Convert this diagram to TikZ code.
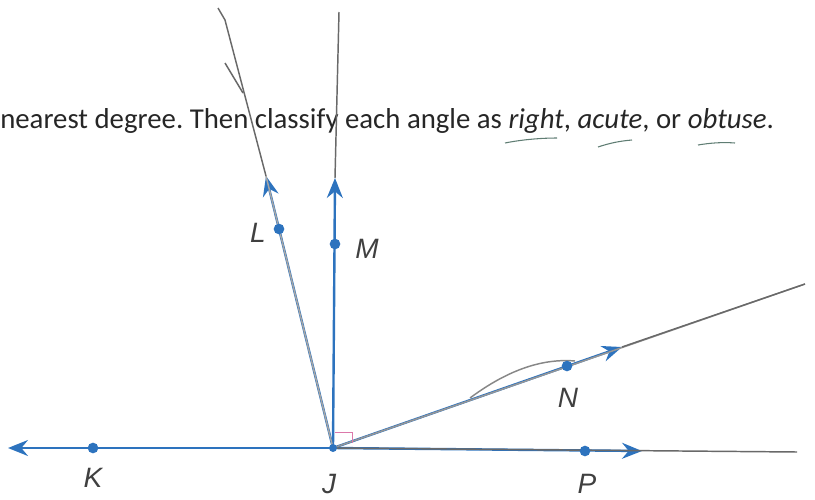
\documentclass[tikz,border=0pt]{standalone}
\usepackage{fontspec}
\setmainfont{Carlito}
\newfontfamily\lblfont{Liberation Sans}
\usetikzlibrary{arrows.meta}
\definecolor{rayblue}{RGB}{45,115,190}
\definecolor{pencil}{RGB}{105,105,105}
\definecolor{greenpen}{RGB}{95,125,115}
\definecolor{pinkmark}{RGB}{220,120,170}
\frenchspacing
\tikzset{
  bluray/.style={rayblue, line width=1.8pt, -{Stealth[length=15pt,width=12pt,inset=5pt]}},
  pencilline/.style={pencil, line width=1.1pt},
  ptdot/.style={circle, fill=rayblue, inner sep=0pt, minimum size=8pt},
  ptlabel/.style={font=\lblfont\itshape\fontsize{21}{21}\selectfont, text=black!75},
  handmark/.style={greenpen, line width=0.8pt}
}
\begin{document}
\begin{tikzpicture}[x=0.75pt,y=-0.75pt]
\useasboundingbox (0,0) rectangle (815,500);
% question text
\node[anchor=base west, inner sep=0pt, font=\fontsize{21.6}{21.6}\selectfont, text=black!85] (q) at (0,128)
  {nearest degree. Then classify each angle as \textit{right}, \textit{acute}, or \textit{obtuse}.};
\draw[handmark] (505,143) .. controls (525,139) and (545,138) .. (557,138);
\draw[handmark] (598,147) .. controls (610,143) and (620,141) .. (632,140);
\draw[handmark] (698,145) .. controls (710,143) and (722,142) .. (735,143);
% points
\coordinate (J) at (333,448);
\coordinate (Ktip) at (8,448);
\coordinate (Ptip) at (642,451);
\coordinate (Pend) at (797,452);
\coordinate (Ntip) at (622,347);
\coordinate (Nend) at (805,284);
\coordinate (Mtip) at (335,178);
\coordinate (Mend) at (339,12);
\coordinate (Ltip) at (266,176);
\coordinate (Lend) at (225,20);
\coordinate (Lhook) at (218,8);
\coordinate (Lb1) at (225,63);
\coordinate (Lb2) at (243,93);
% blue rays
\draw[bluray] (J) -- (Ktip);
\draw[bluray] (J) -- (Ptip);
\draw[bluray] (J) -- (Ntip);
\draw[bluray] (J) -- (Mtip);
\draw[bluray] (J) -- (Ltip);
% pencil lines
\draw[pencilline] (J) -- (Pend);
\draw[pencilline, pencil!70] (J) -- (Nend);
\draw[pencilline] (Ntip) -- (Nend);
\draw[pencilline] (Mtip) -- (Mend);
\draw[pencilline, pencil!60] (J) -- (Ltip);
\draw[pencilline] (Ltip) -- (Lend) -- (Lhook);
\draw[pencilline] (Lb1) -- (Lb2);
\draw[pencil!80, line width=1.1pt] (470,398) .. controls (505,372) and (540,358) .. (575,361);
% right angle mark
\draw[pinkmark, line width=0.7pt] (335,432) -- (352,432) -- (352,443);
% dots
\node[ptdot] (K) at (93,448) {};
\node[ptdot] (P) at (585,451) {};
\node[ptdot] (N) at (567,366) {};
\node[ptdot] (M) at (335,244) {};
\node[ptdot] (L) at (279,229) {};
\node[ptdot, minimum size=6pt] (Jd) at (J) {};
% labels
\node[ptlabel] (Kl) at (93,478) {K};
\node[ptlabel] (Jl) at (329,484) {J};
\node[ptlabel] (Pl) at (587,484) {P};
\node[ptlabel] (Nl) at (568,398) {N};
\node[ptlabel] (Ml) at (367,249) {M};
\node[ptlabel] (Ll) at (258,233) {L};
\end{tikzpicture}
\end{document}
